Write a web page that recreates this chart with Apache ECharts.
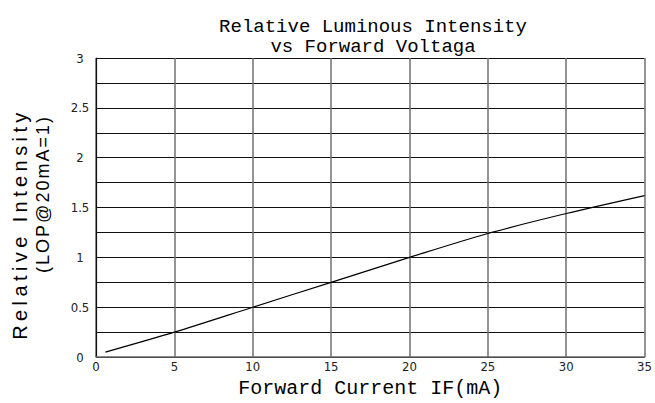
<!DOCTYPE html>
<html>
<head>
<meta charset="utf-8">
<script src="https://cdn.jsdelivr.net/npm/echarts@6/dist/echarts.min.js"></script>
<style>
html,body{margin:0;padding:0;background:#fff;}
#chart{width:655px;height:403px;}
</style>
</head>
<body>
<div id="chart"></div>
<script>
// Data
var currentIF = [0.6, 5, 10, 15, 20, 25, 30, 35];
var relIntensity = [0.05, 0.25, 0.5, 0.75, 1.0, 1.24, 1.44, 1.62];
var xTicks = [0, 5, 10, 15, 20, 25, 30, 35];
var yTicks = [0, 0.5, 1, 1.5, 2, 2.5, 3];
var titleLines = ['Relative Luminous Intensity', 'vs Forward Voltaga'];
var xName = 'Forward Current IF(mA)';
var yName1 = 'Relative Intensity';
var yName2 = '(LOP@20mA=1)';

var points = currentIF.map(function (x, i) { return [x, relIntensity[i]]; });

var chart = echarts.init(document.getElementById('chart'), null, {renderer: 'svg'});
var tickFont = "'Liberation Sans Narrow','DejaVu Sans Condensed',sans-serif";
var monoFont = "'Liberation Mono','DejaVu Sans Mono',monospace";

chart.setOption({
  animation: false,
  backgroundColor: '#fff',
  title: {
    text: titleLines.join('\n'),
    left: 368,
    top: 12,
    textAlign: 'center',
    textStyle: {fontFamily: monoFont, fontSize: 19, fontWeight: 'normal', color: '#000', lineHeight: 20}
  },
  grid: {left: 96, right: 9, top: 58, bottom: 41, containLabel: false},
  xAxis: {
    type: 'value',
    min: xTicks[0],
    max: xTicks[xTicks.length - 1],
    interval: 5,
    name: xName,
    nameLocation: 'middle',
    nameGap: 15,
    nameTextStyle: {fontFamily: monoFont, fontSize: 20, color: '#000'},
    axisLine: {show: true, lineStyle: {color: '#666', width: 1.5}},
    axisTick: {show: false},
    axisLabel: {fontFamily: tickFont, fontSize: 13, color: '#222', margin: 3},
    splitLine: {show: true, lineStyle: {color: '#707070', width: 1.5}}
  },
  yAxis: {
    type: 'value',
    min: yTicks[0],
    max: yTicks[yTicks.length - 1],
    interval: 0.5,
    axisLine: {show: true, lineStyle: {color: '#111', width: 1.2}},
    axisTick: {show: false},
    axisLabel: {fontFamily: tickFont, fontSize: 13, color: '#222', margin: 16, align: 'center',
      formatter: function (v) { return String(v); }},
    splitLine: {show: true, lineStyle: {color: '#111', width: 1.2}},
    minorTick: {show: false, splitNumber: 2},
    minorSplitLine: {show: true, lineStyle: {color: '#111', width: 1.2}}
  },
  graphic: [
    {type: 'text', x: 20, y: 224, rotation: Math.PI / 2,
      style: {text: yName1, font: "20px 'Liberation Sans', Arial, sans-serif", fill: '#000',
        textAlign: 'center', textVerticalAlign: 'middle'}},
    {type: 'text', x: 43, y: 194, rotation: Math.PI / 2,
      style: {text: yName2, font: "18px 'Liberation Sans', Arial, sans-serif", fill: '#000',
        textAlign: 'center', textVerticalAlign: 'middle'}}
  ],
  series: [{
    type: 'line',
    data: points,
    smooth: 0.3,
    showSymbol: false,
    symbol: 'none',
    lineStyle: {color: '#000', width: 1.2},
    z: 5
  }]
});

function spaceLetters() {
  var texts = document.querySelectorAll('#chart text');
  texts.forEach(function (t) {
    var c = t.textContent;
    if (c === yName1) t.style.letterSpacing = '4.4px';
    if (c === yName2) t.style.letterSpacing = '2px';
  });
}
spaceLetters();
chart.on('finished', spaceLetters);
</script>
</body>
</html>
